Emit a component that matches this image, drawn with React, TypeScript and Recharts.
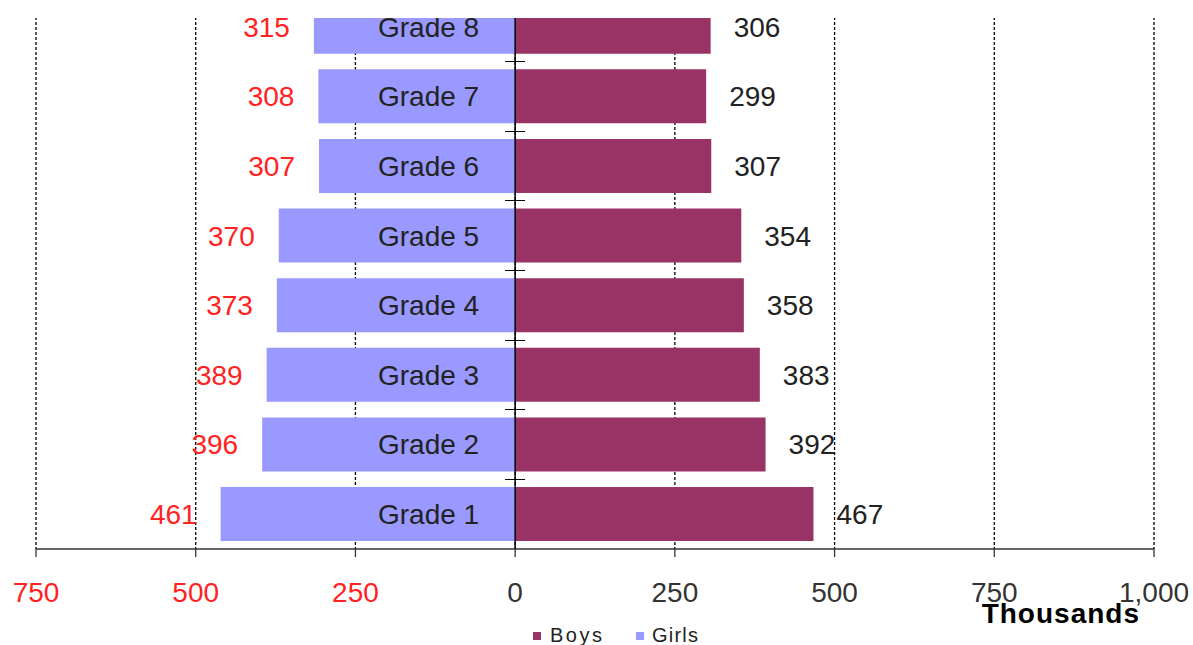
import React from 'react';
import {
  BarChart,
  Bar,
  XAxis,
  YAxis,
  CartesianGrid,
  ReferenceLine,
  LabelList
} from 'recharts';

const grades = ['Grade 8', 'Grade 7', 'Grade 6', 'Grade 5', 'Grade 4', 'Grade 3', 'Grade 2', 'Grade 1'];
const boys = [306, 299, 307, 354, 358, 383, 392, 467];
const girls = [315, 308, 307, 370, 373, 389, 396, 461];
const xTicks = [-750, -500, -250, 0, 250, 500, 750, 1000];

const FONT = '"Liberation Sans", Arial, sans-serif';
const RED = '#FF2222';
const BOYS = '#993366';
const GIRLS = '#9999FF';
const GAP = 0.11;

const data = grades.map((grade, i) => ({ grade, boys: boys[i], girls: -girls[i] }));

const fmt = (v: number) => Math.abs(v).toLocaleString('en-US');

const AxisTick = (props: any) => {
  const { x, y, payload } = props;
  const v = payload.value as number;
  return (
    <text x={x} y={y + 43} textAnchor="middle" fontSize={28} fontFamily={FONT} fill={v < 0 ? RED : '#333'}>
      {fmt(v)}
    </text>
  );
};

const BoysLabel = (props: any) => {
  const { x, y, width, height, value } = props;
  return (
    <text x={x + width + 23} y={y + height / 2} dy={10} fontSize={28} fontFamily={FONT} fill="#222">
      {fmt(value)}
    </text>
  );
};

const GirlsLabel = (props: any) => {
  const { x, y, width, height, value } = props;
  const left = Math.min(x, x + width);
  return (
    <text x={left - 24} y={y + height / 2} dy={10} textAnchor="end" fontSize={28} fontFamily={FONT} fill={RED}>
      {fmt(value)}
    </text>
  );
};

// category names sit left of the zero axis, plus the little cross ticks between bands
const GradeLabel = (props: any) => {
  const { x, y, height, value } = props;
  const band = height / (1 - 2 * GAP);
  const top = y - (band - height) / 2;
  return (
    <g>
      <text x={x - 36} y={y + height / 2} dy={10} textAnchor="end" fontSize={28} fontFamily={FONT} fill="#222">
        {value}
      </text>
      <line x1={x - 10} x2={x + 10} y1={top} y2={top} stroke="#000" strokeWidth={1} shapeRendering="crispEdges" />
    </g>
  );
};

export default function App() {
  return (
    <div style={{ position: 'absolute', left: 0, top: 0, width: 1193, height: 645, overflow: 'hidden', background: '#fff' }}>
      <div style={{ position: 'absolute', left: 0, top: -28 }}>
        <BarChart
          width={1193}
          height={680}
          data={data}
          layout="vertical"
          stackOffset="sign"
          barCategoryGap={`${GAP * 100}%`}
          margin={{ top: 20, right: 39, bottom: 0, left: 36 }}
        >
          <CartesianGrid horizontal={false} stroke="#000" strokeWidth={1.3} strokeDasharray="3 2" />
          <XAxis
            type="number"
            domain={[-750, 1000]}
            ticks={xTicks}
            height={103}
            tick={<AxisTick />}
            tickSize={8}
            axisLine={{ stroke: '#333', strokeWidth: 1.3 }}
            tickLine={{ stroke: '#333', strokeWidth: 1.3 }}
          />
          <YAxis type="category" dataKey="grade" hide />
          <Bar dataKey="girls" stackId="a" fill={GIRLS} isAnimationActive={false}>
            <LabelList dataKey="girls" content={<GirlsLabel />} />
          </Bar>
          <Bar dataKey="boys" stackId="a" fill={BOYS} isAnimationActive={false}>
            <LabelList dataKey="boys" content={<BoysLabel />} />
            <LabelList dataKey="grade" content={<GradeLabel />} />
          </Bar>
          <ReferenceLine x={0} stroke="#000" strokeWidth={1.5} />
        </BarChart>
      </div>
      <div style={{ position: 'absolute', left: 0, top: 0, width: 1193, height: 18, background: '#fff' }} />
      <div
        style={{
          position: 'absolute', left: 940, top: 599, width: 200, textAlign: 'right',
          fontFamily: FONT, fontWeight: 'bold', fontSize: 28, lineHeight: '30px', letterSpacing: 1, color: '#000'
        }}
      >
        Thousands
      </div>
      <div style={{ position: 'absolute', left: 533, top: 632, width: 8, height: 8, background: BOYS }} />
      <div style={{ position: 'absolute', left: 550, top: 624, fontFamily: FONT, fontSize: 20, lineHeight: '22px', letterSpacing: 2.5, color: '#222' }}>
        Boys
      </div>
      <div style={{ position: 'absolute', left: 636, top: 632, width: 8, height: 8, background: GIRLS }} />
      <div style={{ position: 'absolute', left: 652, top: 624, fontFamily: FONT, fontSize: 20, lineHeight: '22px', letterSpacing: 1.2, color: '#222' }}>
        Girls
      </div>
    </div>
  );
}
